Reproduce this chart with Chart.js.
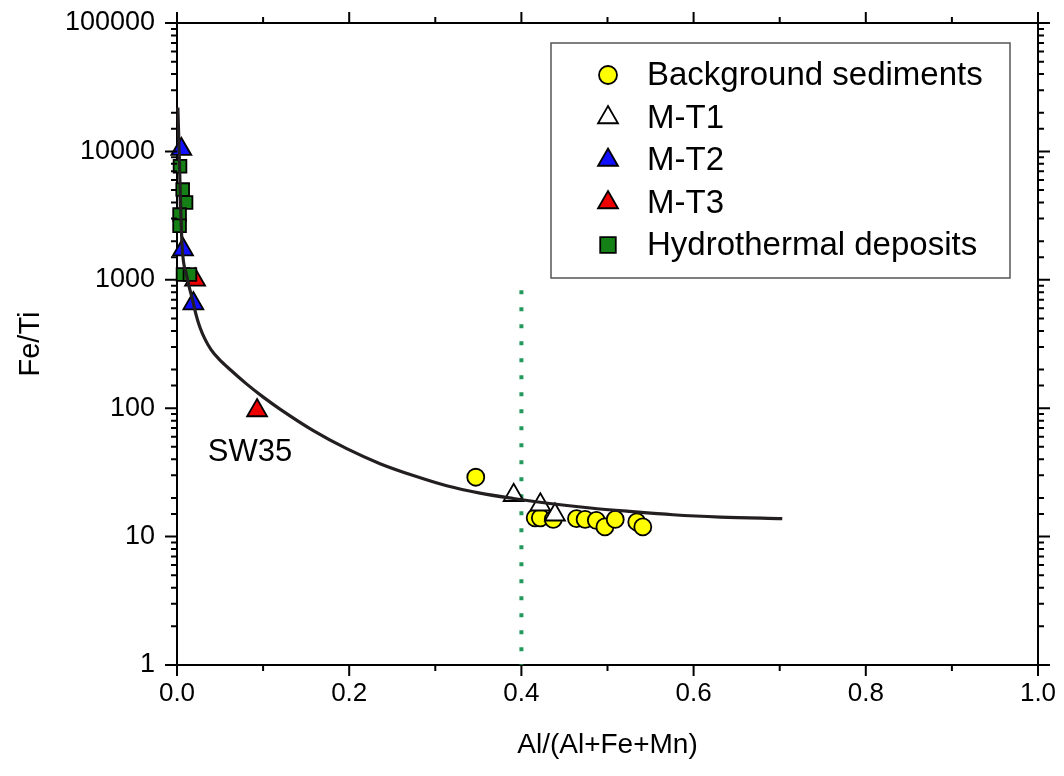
<!DOCTYPE html>
<html>
<head>
<meta charset="utf-8">
<script src="https://cdn.jsdelivr.net/npm/chart.js@4.4.1/dist/chart.umd.min.js"></script>
<style>
html, body { margin: 0; padding: 0; background: #fff; }
</style>
</head>
<body>
<canvas id="canvas" width="1064" height="776"></canvas>
<script>
// values
const bgX = [0.347, 0.416, 0.422, 0.437, 0.464, 0.474, 0.487, 0.497, 0.509, 0.534, 0.541];
const bgY = [29, 14, 14, 13.6, 13.8, 13.6, 13.4, 11.9, 13.6, 13.0, 11.9];

const mt1X = [0.391, 0.422, 0.439];
const mt1Y = [21, 17.7, 14.8];

const mt2X = [0.005, 0.007, 0.019];
const mt2Y = [10400, 1720, 653];

const mt3X = [0.021, 0.093];
const mt3Y = [1000, 96];

const hydX = [0.0035, 0.0066, 0.0105, 0.003, 0.003, 0.007, 0.015];
const hydY = [7650, 5040, 4000, 3220, 2640, 1100, 1100];

// mixing curve
const curveX = [0.001, 0.0025, 0.004, 0.006, 0.011, 0.0189, 0.0221, 0.0267, 0.0325, 0.0395, 0.0488, 0.0616, 0.081, 0.1002, 0.1196, 0.1583, 0.1971, 0.2358, 0.2745, 0.3132, 0.3519, 0.3906, 0.433, 0.48, 0.526, 0.576, 0.631, 0.703];
const curveY = [22000, 10000, 4200, 1800, 1100, 661, 536, 425, 345, 286, 241, 200, 154, 122, 98.4, 66.9, 48.4, 37.0, 29.9, 24.9, 21.8, 19.8, 18.1, 16.7, 15.7, 14.8, 14.2, 13.8];

// dotted boundary line
const limitX = [0.4, 0.4];
const limitY = [830, 1];

const labelSW35 = 'SW35';

const FONT = "'Liberation Sans', Arial, sans-serif";

function pts(xs, ys) {
    return xs.map((x, i) => ({ x: x, y: ys[i] }));
}

function isDecade(v) {
    const l = Math.log10(v);
    return Math.abs(l - Math.round(l)) < 1e-9;
}

// minor/major tick marks on all four sides, legend box and the SW35 note
const extras = {
    id: 'extras',
    afterDraw(chart) {
        const ctx = chart.ctx;
        const a = chart.chartArea;
        const xs = chart.scales.x;
        const ys = chart.scales.y;
        ctx.save();
        ctx.strokeStyle = '#000';
        ctx.lineWidth = 2;
        ctx.beginPath();
        xs.ticks.forEach(t => {
            const px = xs.getPixelForValue(t.value);
            const len = t.label !== '' ? 11 : 6;
            ctx.moveTo(px, a.bottom); ctx.lineTo(px, a.bottom + len);
            ctx.moveTo(px, a.top); ctx.lineTo(px, a.top - len);
        });
        ys.ticks.forEach(t => {
            const py = ys.getPixelForValue(t.value);
            const len = isDecade(t.value) ? 12 : 6;
            ctx.moveTo(a.left, py); ctx.lineTo(a.left - len, py);
            ctx.moveTo(a.right, py); ctx.lineTo(a.right + len, py);
        });
        ctx.stroke();

        // SW35 note under its point
        const meta = chart.getDatasetMeta(4);
        const idx = mt3X.indexOf(0.093);
        const el = meta.data[idx];
        ctx.fillStyle = '#000';
        ctx.font = '31px ' + FONT;
        ctx.textAlign = 'center';
        ctx.textBaseline = 'middle';
        ctx.fillText(labelSW35, el.x - 7, el.y + 42);

        // legend
        const box = { l: 551, t: 43, r: 1010, b: 278 };
        ctx.strokeStyle = '#555';
        ctx.lineWidth = 1.5;
        ctx.strokeRect(box.l, box.t, box.r - box.l, box.b - box.t);
        const items = chart.data.datasets.filter(d => d.inLegend)
            .sort((p, q) => p.legendOrder - q.legendOrder);
        ctx.font = '33px ' + FONT;
        ctx.textAlign = 'left';
        items.forEach((d, i) => {
            const cy = 75 + i * 42.5;
            ctx.fillStyle = d.backgroundColor;
            ctx.strokeStyle = d.borderColor;
            ctx.lineWidth = 1.8;
            Chart.helpers.drawPoint(ctx, {
                pointStyle: d.pointStyle,
                radius: d.legendRadius,
                rotation: 0,
                borderWidth: 1.8
            }, 608, cy);
            ctx.fillStyle = '#000';
            ctx.fillText(d.label, 647, cy + 1);
        });
        ctx.restore();
    }
};

function createVisualization() {
    const ctx = document.getElementById('canvas').getContext('2d');

    const chart = new Chart(ctx, {
        type: 'scatter',
        data: {
            datasets: [
                {
                    label: 'Mixing curve',
                    data: pts(curveX, curveY),
                    showLine: true,
                    pointRadius: 0,
                    borderColor: '#231f20',
                    borderWidth: 3.2,
                    cubicInterpolationMode: 'monotone',
                    clip: false,
                },
                {
                    label: 'Hydrothermal deposits',
                    inLegend: true, legendOrder: 4, legendRadius: 11,
                    data: pts(hydX, hydY),
                    pointStyle: 'rect',
                    pointRadius: 9,
                    backgroundColor: '#158015',
                    borderColor: '#000',
                    borderWidth: 1.8,
                    clip: false,
                },
                {
                    label: 'M-T1',
                    inLegend: true, legendOrder: 1, legendRadius: 11.5,
                    data: pts(mt1X, mt1Y),
                    pointStyle: 'triangle',
                    pointRadius: 11.5,
                    backgroundColor: '#ffffff',
                    borderColor: '#000',
                    borderWidth: 1.8,
                    clip: false,
                },
                {
                    label: 'M-T2',
                    inLegend: true, legendOrder: 2, legendRadius: 11.5,
                    data: pts(mt2X, mt2Y),
                    pointStyle: 'triangle',
                    pointRadius: 11.5,
                    backgroundColor: '#1010ff',
                    borderColor: '#000',
                    borderWidth: 1.8,
                    clip: false,
                },
                {
                    label: 'M-T3',
                    inLegend: true, legendOrder: 3, legendRadius: 11.5,
                    data: pts(mt3X, mt3Y),
                    pointStyle: 'triangle',
                    pointRadius: 11.5,
                    backgroundColor: '#ee0000',
                    borderColor: '#000',
                    borderWidth: 1.8,
                    clip: false,
                },
                {
                    label: 'Background sediments',
                    inLegend: true, legendOrder: 0, legendRadius: 9,
                    data: pts(bgX, bgY),
                    pointStyle: 'circle',
                    pointRadius: 8.5,
                    backgroundColor: '#ffff00',
                    borderColor: '#000',
                    borderWidth: 1.8,
                    clip: false,
                },
                {
                    label: 'Limit',
                    data: pts(limitX, limitY),
                    showLine: true,
                    pointRadius: 0,
                    borderColor: '#23995c',
                    borderWidth: 4,
                    borderDash: [4, 13],
                },
            ]
        },
        options: {
            responsive: false,
            animation: false,
            layout: { padding: 0 },
            scales: {
                x: {
                    type: 'linear',
                    position: 'bottom',
                    min: 0, max: 1,
                    afterFit: s => { s.height = 111; s.paddingLeft = 0; s.paddingRight = 0; },
                    grid: { display: false },
                    border: { display: true, color: '#000', width: 2 },
                    ticks: {
                        stepSize: 0.1,
                        autoSkip: false,
                        maxRotation: 0,
                        padding: 5,
                        color: '#000',
                        font: { family: FONT, size: 26 },
                        callback: v => (Math.round(v * 10) % 2 === 0 ? v.toFixed(1) : ''),
                    },
                    title: {
                        display: true,
                        text: 'Al/(Al+Fe+Mn)',
                        color: '#000',
                        font: { family: FONT, size: 28 },
                        padding: { top: 0, bottom: 14 },
                    },
                },
                x2: {
                    type: 'linear',
                    position: 'top',
                    min: 0, max: 1,
                    afterFit: s => { s.height = 23; },
                    grid: { display: false },
                    border: { display: true, color: '#000', width: 2 },
                    ticks: { display: false },
                },
                y: {
                    type: 'logarithmic',
                    position: 'left',
                    min: 1, max: 100000,
                    afterFit: s => { s.width = 177; s.paddingTop = 0; s.paddingBottom = 0; },
                    grid: { display: false },
                    border: { display: true, color: '#000', width: 2 },
                    ticks: {
                        autoSkip: false,
                        padding: 14,
                        color: '#000',
                        font: { family: FONT, size: 27 },
                        callback: v => (isDecade(v) ? String(Math.round(v)) : ''),
                    },
                    title: {
                        display: true,
                        text: 'Fe/Ti',
                        color: '#000',
                        font: { family: FONT, size: 29 },
                        padding: { top: 14, bottom: 0 },
                    },
                },
                y2: {
                    type: 'logarithmic',
                    position: 'right',
                    min: 1, max: 100000,
                    afterFit: s => { s.width = 26; },
                    grid: { display: false },
                    border: { display: true, color: '#000', width: 2 },
                    ticks: { display: false },
                },
            },
            plugins: {
                legend: { display: false },
                tooltip: { enabled: false },
            }
        },
        plugins: [extras]
    });
}

createVisualization();
</script>
</body>
</html>
